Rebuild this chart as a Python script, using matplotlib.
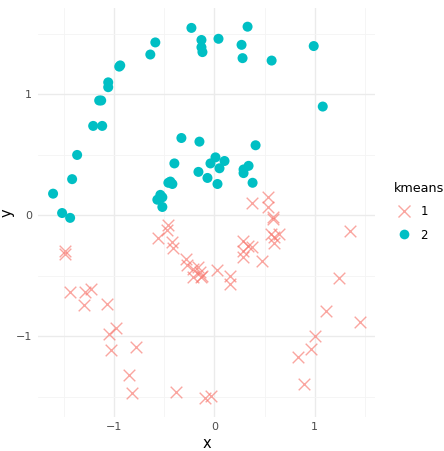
import matplotlib
matplotlib.use("Agg")
import matplotlib.pyplot as plt
from matplotlib.lines import Line2D

# cluster 1 (red crosses)
x1 = [0.37, 0.53, 0.53, 0.58, 0.58, 1.35, 0.56, 0.64, 0.59, 0.59,
      0.28, 0.33, 0.37, 0.28, 0.28, 0.47, 0.03, 0.15, 0.15, -0.14,
      -0.12, 1.24, 1.11, 1.45, 1.00, 0.96, 0.83, 0.89, -0.09, -0.03,
      -0.46, -0.47, -0.56, -0.42, -0.41, -0.28, -0.27, -0.21, -0.16, -0.21,
      -0.13, -1.49, -1.49, -1.44, -1.29, -1.23, -1.30, -1.07, -0.98, -1.05,
      -1.03, -0.78, -0.85, -0.82, -0.38]
y1 = [0.10, 0.15, 0.07, -0.01, -0.03, -0.13, -0.15, -0.15, -0.23, -0.18,
      -0.21, -0.25, -0.26, -0.29, -0.34, -0.38, -0.45, -0.50, -0.57, -0.47,
      -0.50, -0.52, -0.79, -0.88, -1.00, -1.10, -1.17, -1.39, -1.51, -1.49,
      -0.08, -0.12, -0.19, -0.22, -0.27, -0.36, -0.41, -0.44, -0.43, -0.51,
      -0.51, -0.29, -0.32, -0.63, -0.63, -0.61, -0.74, -0.73, -0.93, -0.98,
      -1.11, -1.09, -1.32, -1.47, -1.46]

# cluster 2 (teal dots)
x2 = [-0.23, -0.59, -0.64, -0.13, -0.13, -0.12, 0.04, -0.95, -1.06, -1.06,
      -1.13, -1.15, -1.21, -1.12, -1.37, -1.42, -1.61, -1.52, -1.44, -0.33,
      -0.15, -0.40, -0.46, -0.42, -0.54, -0.57, -0.52, -0.52, 0.01, -0.04,
      0.10, 0.05, -0.16, -0.07, 0.03, 0.33, 0.27, 0.28, 0.57, 0.99,
      1.08, 0.41, 0.34, 0.29, 0.29, 0.38, -0.94, -0.44]
y2 = [1.55, 1.43, 1.33, 1.45, 1.39, 1.35, 1.46, 1.23, 1.10, 1.06,
      0.95, 0.95, 0.74, 0.74, 0.50, 0.30, 0.18, 0.02, -0.02, 0.64,
      0.61, 0.43, 0.27, 0.26, 0.17, 0.13, 0.15, 0.07, 0.48, 0.43,
      0.45, 0.39, 0.36, 0.31, 0.26, 1.56, 1.41, 1.30, 1.28, 1.40,
      0.90, 0.58, 0.41, 0.38, 0.35, 0.27, 1.24, 0.28]

red = "#F8766D"
teal = "#00BFC4"

fig = plt.figure(figsize=(4.44, 4.51), dpi=100)
ax = fig.add_axes([0.085, 0.076, 0.76, 0.906])

ax.scatter(x1, y1, marker="x", s=70, linewidths=1.0, color=red, alpha=0.65, zorder=3)
ax.scatter(x2, y2, marker="o", s=52, color=teal, edgecolors="none", zorder=3)

ax.margins(0.05)
ax.set_xticks([-1, 0, 1])
ax.set_yticks([-1, 0, 1])
ax.set_xticks([-1.5, -0.5, 0.5, 1.5], minor=True)
ax.set_yticks([-1.5, -0.5, 0.5, 1.5], minor=True)
ax.grid(which="major", color="#EBEBEB", linewidth=1.0)
ax.grid(which="minor", color="#F4F4F4", linewidth=0.6)
ax.set_axisbelow(True)
for s in ax.spines.values():
    s.set_visible(False)
ax.tick_params(which="both", length=0, labelsize=8, labelcolor="#4D4D4D", pad=4)
ax.set_xlabel("x", fontsize=10.5, labelpad=3)
ax.set_ylabel("y", fontsize=10.5)
ax.yaxis.set_label_coords(-0.068, 0.5)

handles = [
    Line2D([], [], marker="x", linestyle="none", color=red, alpha=0.65, markersize=8.5, markeredgewidth=1.0),
    Line2D([], [], marker="o", linestyle="none", color=teal, markeredgecolor="none", markersize=7),
]
leg = fig.legend(handles, ["1", "2"], title="kmeans", loc="center left",
                 bbox_to_anchor=(0.886, 0.53), frameon=False, fontsize=8.5,
                 title_fontsize=9.2, handletextpad=0.5, handlelength=1.8,
                 labelspacing=0.85, borderpad=0, borderaxespad=0)
leg._legend_box.align = "left"

fig.savefig("out.png", dpi=100)
